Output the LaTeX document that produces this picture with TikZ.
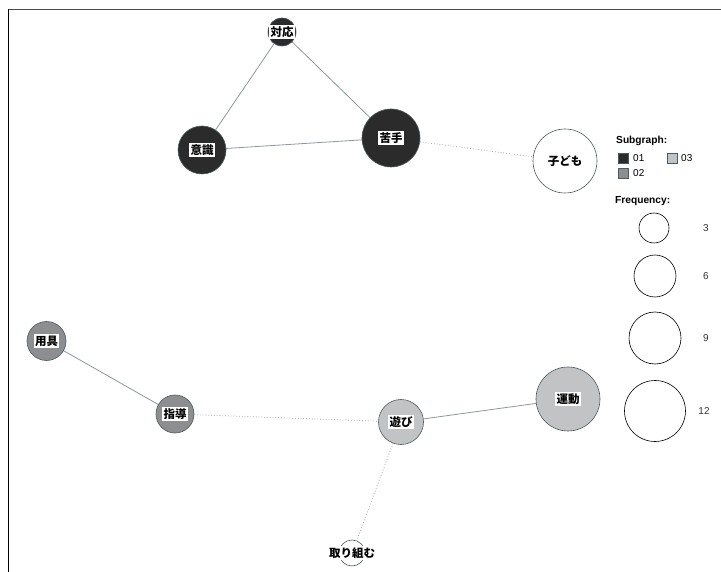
\documentclass[tikz,border=0pt]{standalone}
\usepackage{fontspec}
\setmainfont{Liberation Sans}
\newfontfamily\cjk{Noto Sans CJK JP}
\usetikzlibrary{backgrounds}
\definecolor{cone}{HTML}{2B2B2B}
\definecolor{ctwo}{HTML}{8C8E90}
\definecolor{cthree}{HTML}{C2C3C4}
\definecolor{nodeline}{HTML}{4E5A60}
\definecolor{edgesolid}{HTML}{8E989E}
\definecolor{edgedot}{HTML}{A8A8A8}
\definecolor{legtext}{HTML}{333333}
\tikzset{
  vert/.style={circle, draw=nodeline, line width=0.6pt, inner sep=0pt, minimum size=#1},
  gone/.style={fill=cone},
  gtwo/.style={fill=ctwo},
  gthree/.style={fill=cthree},
  gwhite/.style={fill=white},
  lab/.style={fill=white, inner sep=1.3pt, text=black, font=\cjk\bfseries\fontsize{11.5}{12}\selectfont},
  solidedge/.style={draw=edgesolid, line width=0.8pt},
  dotedge/.style={draw=edgedot, dotted, line width=0.8pt},
  legsq/.style={draw=nodeline, line width=0.5pt, minimum size=10pt, inner sep=0pt},
  legcirc/.style={circle, draw=black, line width=0.6pt, inner sep=0pt, minimum size=#1},
  legtitle/.style={font=\bfseries\fontsize{10.2}{12}\selectfont, text=black, inner sep=0pt},
  legnum/.style={font=\fontsize{10}{11}\selectfont, text=legtext, inner sep=0pt}
}
\begin{document}
\begin{tikzpicture}[x=1pt,y=-1pt]
\useasboundingbox (0,0) rectangle (721,572);
\begin{scope}[on background layer]
\fill[white] (0,0) rectangle (721,572);
\end{scope}
% frame
\draw[gray!60!black, line width=1.6pt] (721,9.5) -- (8.5,9.5);
\draw[black, line width=1.4pt] (8.5,9.5) -- (8.5,572);

% vertices
\node[vert=28pt, gone, label={[lab]center:対応}] (taio) at (282,32) {};
\node[vert=48pt, gone, label={[lab]center:意識}] (ishiki) at (202,150) {};
\node[vert=58pt, gone, label={[lab]center:苦手}] (nigate) at (391,138) {};
\node[vert=64pt, gwhite, label={[lab]center:子ども}] (kodomo) at (565,161) {};
\node[vert=39pt, gtwo, label={[lab]center:用具}] (yogu) at (46.5,341) {};
\node[vert=38pt, gtwo, label={[lab]center:指導}] (shido) at (175,414) {};
\node[vert=45pt, gthree, label={[lab]center:遊び}] (asobi) at (401,422) {};
\node[vert=64pt, gthree, label={[lab]center:運動}] (undo) at (568,399) {};
\node[vert=26pt, gwhite, label={[lab]center:取り組む}] (torikumu) at (352,553) {};

% edges
\begin{scope}[on background layer]
\draw[solidedge] (taio) -- (ishiki);
\draw[solidedge] (taio) -- (nigate);
\draw[solidedge] (ishiki) -- (nigate);
\draw[dotedge] (nigate) -- (kodomo);
\draw[solidedge] (yogu) -- (shido);
\draw[dotedge] (shido) -- (asobi);
\draw[solidedge] (asobi) -- (undo);
\draw[dotedge] (asobi) -- (torikumu);
\end{scope}

% legend: subgraph
\node[legtitle, anchor=west] (subtitle) at (616,141) {Subgraph:};
\node[legsq, fill=cone] (sqone) at (623,158) {};
\node[legnum, anchor=west, text=black] (lone) at (633,158) {01};
\node[legsq, fill=cthree] (sqthree) at (672,158) {};
\node[legnum, anchor=west, text=black] (lthree) at (681,158) {03};
\node[legsq, fill=ctwo] (sqtwo) at (623,173) {};
\node[legnum, anchor=west, text=black] (ltwo) at (633,173) {02};

% legend: frequency
\node[legtitle, anchor=west] (freqtitle) at (615,201) {Frequency:};
\node[legcirc=30pt] (fthree) at (654,228) {};
\node[legnum] (nthree) at (706,228) {3};
\node[legcirc=42pt] (fsix) at (655,276) {};
\node[legnum] (nsix) at (706,276) {6};
\node[legcirc=52pt] (fnine) at (655,338) {};
\node[legnum] (nnine) at (706,338) {9};
\node[legcirc=61pt] (ftwelve) at (655,411) {};
\node[legnum] (ntwelve) at (704,411) {12};
\end{tikzpicture}
\end{document}
